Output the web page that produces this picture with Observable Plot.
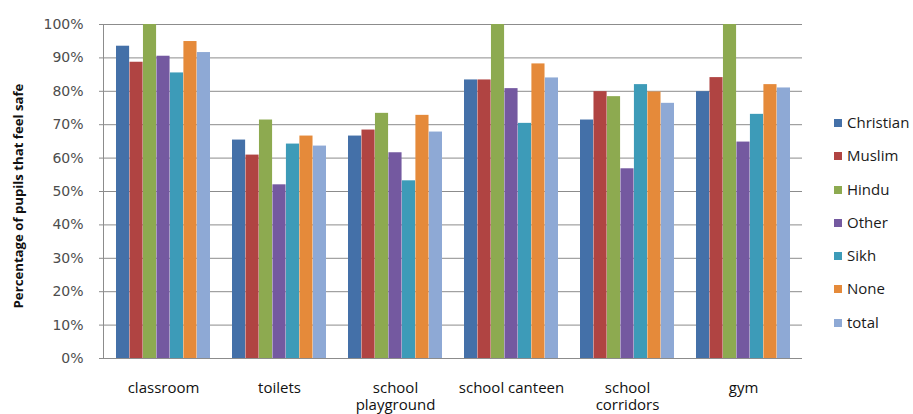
<!DOCTYPE html>
<html>
<head>
<meta charset="utf-8">
<script src="https://cdn.jsdelivr.net/npm/d3@7"></script>
<script src="https://cdn.jsdelivr.net/npm/@observablehq/plot@0.6"></script>
<style>
  body { margin: 0; background: #fff; }
  #wrap { position: relative; width: 913px; height: 414px; background: #fff; overflow: hidden; }
  #legend { position: absolute; left: 834px; top: 112px; font-family: "Open Sans", "Liberation Sans", sans-serif; font-size: 15px; color: #1a1a1a; }
  #legend .item { height: 33.3px; display: flex; align-items: flex-start; white-space: nowrap; }
  #legend .sw { width: 8px; height: 8px; margin-right: 5px; margin-top: 7px; }
  #ylabel { position: absolute; left: 18px; top: 196px; transform: translate(-50%, -50%) rotate(-90deg); white-space: nowrap; font-family: "Open Sans", "DejaVu Sans", sans-serif; font-weight: bold; font-size: 13.2px; color: #111; }
</style>
</head>
<body>
<div id="wrap"><div id="ylabel">Percentage of pupils that feel safe</div><div id="legend"></div></div>
<script>
const categories = ["classroom", "toilets", "school playground", "school canteen", "school corridors", "gym"];
const categoryLabels = ["classroom", "toilets", "school\nplayground", "school canteen", "school\ncorridors", "gym"];
const series = ["Christian", "Muslim", "Hindu", "Other", "Sikh", "None", "total"];
const colors = ["#4470a8", "#b04442", "#8daa50", "#7459a0", "#3d9bb8", "#e58a3a", "#8ea9d5"];
const christian = [0.935, 0.654, 0.666, 0.834, 0.714, 0.799];
const muslim    = [0.887, 0.609, 0.684, 0.834, 0.799, 0.841];
const hindu     = [1.000, 0.714, 0.734, 1.000, 0.784, 1.000];
const other     = [0.905, 0.520, 0.616, 0.808, 0.568, 0.648];
const sikh      = [0.855, 0.642, 0.532, 0.704, 0.820, 0.731];
const none      = [0.949, 0.666, 0.728, 0.882, 0.798, 0.820];
const total     = [0.916, 0.636, 0.678, 0.840, 0.764, 0.810];
const yTicks = [0, 0.1, 0.2, 0.3, 0.4, 0.5, 0.6, 0.7, 0.8, 0.9, 1.0];

const values = [christian, muslim, hindu, other, sikh, none, total];
const W = 913, H = 414, mL = 103, mR = 111, mT = 24, mB = 56;
const padIn = 0.19, padOut = 0.095;
const step = (W - mL - mR) / (categories.length - padIn + 2 * padOut);
const bw = step * (1 - padIn);
const slot = bw / series.length;
const gridColor = "#8c8c8c";

const barMarks = series.map((s, j) => Plot.barY(
  categories.map((c, i) => ({category: c, value: values[j][i]})),
  {x: "category", y: "value", fill: colors[j],
   insetLeft: j * slot, insetRight: (series.length - 1 - j) * slot}
));

const chart = Plot.plot({
  width: W, height: H,
  marginLeft: mL, marginRight: mR, marginTop: mT, marginBottom: mB,
  style: {background: "white"},
  x: {domain: categories, paddingInner: padIn, paddingOuter: padOut},
  y: {domain: [0, 1]},
  marks: [
    Plot.ruleY(yTicks.slice(1), {stroke: gridColor, strokeWidth: 1}),
    ...barMarks,
    Plot.ruleY([0], {stroke: gridColor}),
    Plot.frame({anchor: "left", stroke: gridColor}),
    Plot.axisY({ticks: yTicks, tickFormat: d3.format(".0%"), label: null, tickSize: 4, tickPadding: 16,
                stroke: gridColor, fill: "#4d4d4d", fontSize: 14, fontFamily: "DejaVu Sans, sans-serif"}),
    Plot.axisX({tickFormat: (d) => categoryLabels[categories.indexOf(d)], label: null, tickSize: 0, tickPadding: 22,
                fill: "#111", fontSize: 15, lineHeight: 1.15, fontFamily: "Open Sans, Liberation Sans, sans-serif"})
  ]
});
document.getElementById("wrap").appendChild(chart);

const legend = document.getElementById("legend");
series.forEach((s, j) => {
  const item = document.createElement("div");
  item.className = "item";
  const sw = document.createElement("div");
  sw.className = "sw";
  sw.style.background = colors[j];
  const t = document.createElement("span");
  t.textContent = s;
  item.appendChild(sw); item.appendChild(t);
  legend.appendChild(item);
});
</script>
</body>
</html>
